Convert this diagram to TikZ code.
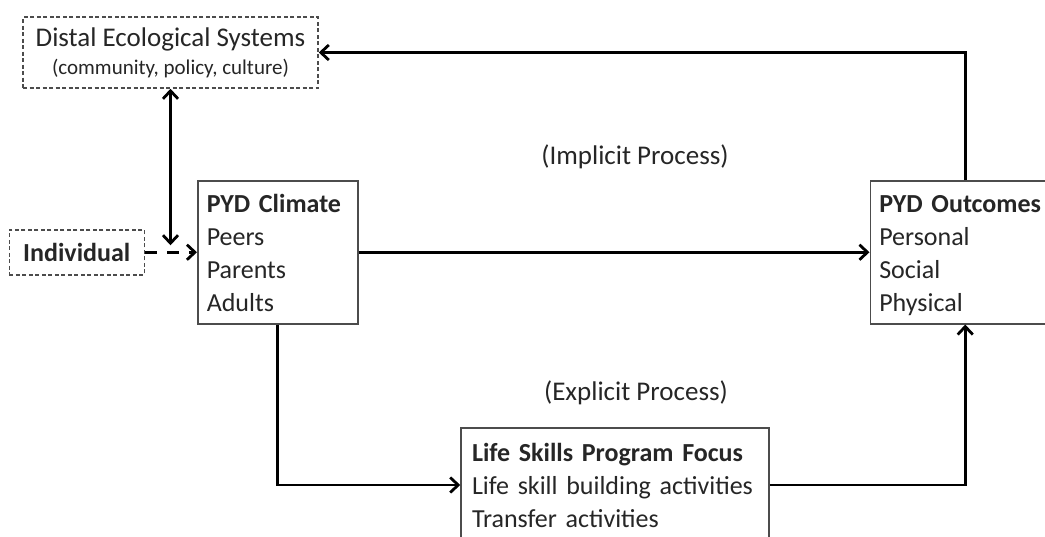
\documentclass[tikz,border=0pt]{standalone}
\usepackage{fontspec}
\setmainfont{Carlito}
\usetikzlibrary{arrows.meta,positioning}

\begin{document}
\begin{tikzpicture}[x=1pt,y=-1pt,>={Straight Barb[length=8pt,width=15pt]},
        line width=2.8pt,
        box/.style={draw=black!70,line width=1.5pt,fill=white,align=left,
          inner xsep=9pt,text=black!85,font=\fontsize{26}{33}\selectfont},
        list box/.style={box,text height=25pt,text depth=#1},
        dash box/.style={box,dash pattern=on 4pt off 2.5pt},
        note/.style={text=black!85,font=\fontsize{27}{30}\selectfont}]
        \useasboundingbox (0,0) rectangle (1045,536);
        \node[list box=105pt,anchor=north west,text width=142pt,minimum height=143pt] (climate) at (197,180)
          {\textbf{PYD Climate}\\Peers\\Parents\\Adults};
        \node[list box=105pt,text width=172pt,minimum height=143pt] (outcomes) [right = 511pt of climate]
          {\textbf{PYD Outcomes}\\Personal\\Social\\Physical};
        \node[dash box,align=center,inner xsep=0pt,minimum width=135pt,minimum height=45pt] (individual) [left = 52pt of climate]
          {\textbf{Individual}};
        \node[dash box,align=center,minimum width=295pt,minimum height=71pt] (distal) at (170.5,52.5)
          {{\fontsize{27}{30}\selectfont Distal Ecological Systems}\\[-5pt]{\fontsize{21}{24}\selectfont (community, policy, culture)}};
        \node[list box=72pt,inner xsep=11pt,text width=286pt,minimum height=114pt] (skills) at (615,485)
          {\textbf{Life Skills Program Focus}\\Life skill building activities\\Transfer activities};
        \node[note] (implicit) at (635,157) {(Implicit Process)};
        \node[note] (explicit) at (636,393) {(Explicit Process)};

        \coordinate (meet) at (distal.south |- individual.east);

          \draw[->] (climate) -- (outcomes);
          \draw[->] (outcomes.north) |- (distal.east);
          \draw[->] (climate.south) |- (skills.west);
          \draw[->] (skills.east) -| (outcomes.south);
          \draw[<->] (distal.south) -- ([yshift=7pt]meet);
          \draw[->,dash pattern=on 12pt off 10pt] (individual.east) -- (individual.east -| climate.west);

      \end{tikzpicture}
\end{document}
